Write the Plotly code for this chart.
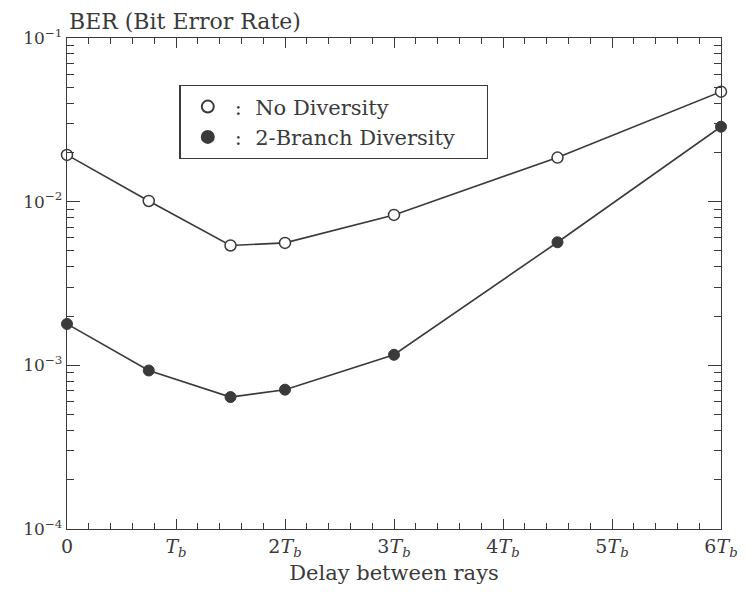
import plotly.graph_objects as go

delay = [0, 0.75, 1.5, 2, 3, 4.5, 6]
ber_no_div = [0.0193, 0.0101, 0.0054, 0.0056, 0.0083, 0.0186, 0.047]
ber_2branch = [0.00179, 0.00093, 0.00064, 0.00071, 0.00116, 0.00565, 0.0287]

x_tickvals = [0, 1, 2, 3, 4, 5, 6]
x_ticktext = ["0", "<i>T</i><sub><i>b</i></sub>", "2<i>T</i><sub><i>b</i></sub>",
              "3<i>T</i><sub><i>b</i></sub>", "4<i>T</i><sub><i>b</i></sub>",
              "5<i>T</i><sub><i>b</i></sub>", "6<i>T</i><sub><i>b</i></sub>"]
y_tickvals = [1e-4, 1e-3, 1e-2, 1e-1]
y_ticktext = ["10<sup>\u22124</sup>", "10<sup>\u22123</sup>", "10<sup>\u22122</sup>", "10<sup>\u22121</sup>"]

ink = "#3a3a3a"
font = "DejaVu Serif, Liberation Serif, serif"

y_minor = [m * 10**e for e in (-4, -3, -2) for m in range(2, 10)]
x_minor = [i * 0.2 for i in range(31) if i % 5 != 0]

fig = go.Figure()
fig.add_trace(go.Scatter(x=delay, y=ber_no_div, mode="lines+markers", showlegend=False,
                         line=dict(color=ink, width=1.6),
                         marker=dict(symbol="circle", size=11, color="white",
                                     line=dict(color=ink, width=1.5)),
                         cliponaxis=False))
fig.add_trace(go.Scatter(x=delay, y=ber_2branch, mode="lines+markers", showlegend=False,
                         line=dict(color=ink, width=1.6),
                         marker=dict(symbol="circle", size=11, color=ink,
                                     line=dict(color=ink, width=1)),
                         cliponaxis=False))
# legend entries
nb = "\u00a0"
fig.add_trace(go.Scatter(x=[None], y=[None], mode="markers", name=":" + nb * 2 + "No Diversity",
                         marker=dict(symbol="circle", size=10, color="white",
                                     line=dict(color=ink, width=1.5))))
fig.add_trace(go.Scatter(x=[None], y=[None], mode="markers",
                         name=":" + nb * 2 + "2-Branch Diversity" + nb * 4,
                         marker=dict(symbol="circle", size=10, color=ink,
                                     line=dict(color=ink, width=1))))

fig.update_layout(
    width=750, height=594,
    margin=dict(l=67, r=21, t=38, b=65),
    paper_bgcolor="white", plot_bgcolor="white",
    font=dict(family=font, color=ink, size=20),
    showlegend=True,
    legend=dict(x=0.172, y=0.904, xanchor="left", yanchor="top",
                bordercolor=ink, borderwidth=1.3, bgcolor="white",
                font=dict(size=21, family=font, color=ink),
                itemsizing="constant", tracegroupgap=0, itemwidth=44),
    xaxis=dict(range=[0, 6], tickvals=x_tickvals, ticktext=x_ticktext,
               tickfont=dict(size=19),
               ticks="inside", ticklen=10, tickwidth=1.2, tickcolor=ink,
               showline=True, linecolor=ink, linewidth=1.3, mirror="ticks",
               showgrid=False, zeroline=False,
               minor=dict(tickvals=x_minor, ticks="inside", ticklen=6, tickwidth=1, tickcolor=ink),
               title=dict(text="Delay between rays", standoff=6, font=dict(size=21))),
    yaxis=dict(type="log", range=[-4, -1], tickvals=y_tickvals, ticktext=y_ticktext,
               tickfont=dict(size=17),
               ticks="inside", ticklen=13, tickwidth=1.2, tickcolor=ink,
               showline=True, linecolor=ink, linewidth=1.3, mirror="ticks",
               showgrid=False, zeroline=False,
               minor=dict(tickvals=y_minor, ticks="inside", ticklen=7, tickwidth=1, tickcolor=ink)),
    annotations=[dict(text="BER (Bit Error Rate)", xref="paper", yref="paper",
                      x=0, y=1, xanchor="left", yanchor="bottom", showarrow=False,
                      yshift=2, font=dict(size=22, family=font, color=ink))],
)

fig.write_html("out.html",
               config={"displayModeBar": False},
               post_script="document.body.style.margin='0';"
                           "document.documentElement.style.overflow='hidden';")
